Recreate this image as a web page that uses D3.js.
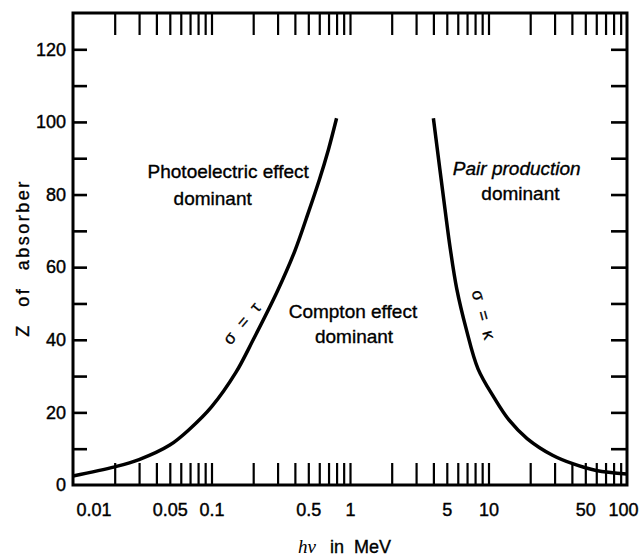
<!DOCTYPE html>
<html>
<head>
<meta charset="utf-8">
<script src="https://cdn.jsdelivr.net/npm/d3@7"></script>
<style>
  html, body { margin: 0; padding: 0; background: #fff; }
  svg { display: block; }
  text { font-family: "Liberation Sans", Arial, Helvetica, sans-serif; fill: #000; }
</style>
</head>
<body>
<svg id="chart" width="641" height="559"></svg>
<script>
// ---- data ----
// photoelectric / Compton equal-probability line (sigma = tau)
const photoEnergy = [0.01, 0.02, 0.03, 0.05, 0.07, 0.1, 0.15, 0.2, 0.3, 0.4, 0.5, 0.6, 0.7, 0.8];
const photoZ      = [2.5, 5, 7, 11, 15.5, 21.5, 31, 40, 53.5, 64.5, 75, 84, 92.5, 101];
// Compton / pair production equal-probability line (sigma = kappa)
const pairEnergy  = [4, 4.85, 5.3, 5.9, 6.9, 8.4, 11, 14, 19, 29, 41, 60, 100];
const pairZ       = [101, 76, 65, 54, 43, 32, 24, 18, 12.8, 8.2, 5.8, 4, 3];

// tick values and labels
const xTickValues = [0.02, 0.03, 0.04, 0.05, 0.06, 0.07, 0.08, 0.09, 0.1,
                     0.2, 0.3, 0.4, 0.5, 0.6, 0.7, 0.8, 0.9, 1,
                     2, 3, 4, 5, 6, 7, 8, 9, 10,
                     20, 30, 40, 50, 60, 70, 80, 90];
const xLabelValues = [0.01, 0.05, 0.1, 0.5, 1, 5, 10, 50, 100];
const xLabelText   = ["0.01", "0.05", "0.1", "0.5", "1", "5", "10", "50", "100"];
const yTickValues  = [10, 20, 30, 40, 50, 60, 70, 80, 90, 100, 110, 120];
const yLabelValues = [0, 20, 40, 60, 80, 100, 120];
const yLabelText   = ["0", "20", "40", "60", "80", "100", "120"];

const regionLabels = [
  { text: "Photoelectric effect", e: 0.132, z: 84.5, italic: false },
  { text: "dominant", e: 0.102, z: 77, italic: false },
  { text: "Compton effect", e: 1.05, z: 46, italic: false },
  { text: "dominant", e: 1.07, z: 39, italic: false },
  { text: "Pair production", e: 16.0, z: 85.5, italic: true },
  { text: "dominant", e: 17.0, z: 78.5, italic: false }
];

// ---- layout ----
const L = 73, R = 627, T = 13, B = 485;
const svg = d3.select("#chart");
const x = d3.scaleLog().domain([0.01, 100]).range([L, R]);
const y = d3.scaleLinear().domain([0, 130]).range([B, T]);

// curves
const line = d3.line().x(d => x(d[0])).y(d => y(d[1])).curve(d3.curveCatmullRom.alpha(0.5));
svg.append("path")
  .attr("d", line(photoEnergy.map((e, i) => [e, photoZ[i]])))
  .attr("fill", "none").attr("stroke", "#000").attr("stroke-width", 3.5);
svg.append("path")
  .attr("d", line(pairEnergy.map((e, i) => [e, pairZ[i]])))
  .attr("fill", "none").attr("stroke", "#000").attr("stroke-width", 3.5);

// axes: tick marks pointing inward
function styleTicks(g, w) {
  g.select(".domain").remove();
  g.selectAll(".tick line").attr("stroke", "#000").attr("stroke-width", w);
}
svg.append("g").attr("transform", `translate(0,${B})`)
  .call(d3.axisBottom(x).tickValues(xTickValues).tickSize(-22).tickFormat(""))
  .call(g => styleTicks(g, 2.2));
svg.append("g").attr("transform", `translate(0,${T})`)
  .call(d3.axisTop(x).tickValues(xTickValues).tickSize(-22).tickFormat(""))
  .call(g => styleTicks(g, 2.2));
svg.append("g").attr("transform", `translate(${L},0)`)
  .call(d3.axisLeft(y).tickValues(yTickValues).tickSize(-14).tickFormat(""))
  .call(g => styleTicks(g, 2.6));
svg.append("g").attr("transform", `translate(${R},0)`)
  .call(d3.axisRight(y).tickValues(yTickValues).tickSize(-16).tickFormat(""))
  .call(g => styleTicks(g, 2.6));

// tick labels
const xl = svg.append("g").attr("transform", `translate(0,${B})`)
  .call(d3.axisBottom(x).tickValues(xLabelValues).tickSize(0).tickPadding(18)
    .tickFormat((d, i) => xLabelText[i]));
xl.select(".domain").remove();
xl.selectAll("text").attr("font-size", 18).attr("font-family", null)
  .attr("stroke", "#000").attr("stroke-width", 0.4);
xl.selectAll(".tick").filter(d => d === 0.01).select("text")
  .attr("text-anchor", "start").attr("dx", 3);
xl.selectAll(".tick").filter(d => d === 100).select("text")
  .attr("text-anchor", "end").attr("dx", 11);

const yl = svg.append("g").attr("transform", `translate(${L},0)`)
  .call(d3.axisLeft(y).tickValues(yLabelValues).tickSize(0).tickPadding(7)
    .tickFormat((d, i) => yLabelText[i]));
yl.select(".domain").remove();
yl.selectAll("text").attr("font-size", 18).attr("font-family", null)
  .attr("stroke", "#000").attr("stroke-width", 0.4);

// frame
svg.append("rect").attr("x", L).attr("y", T).attr("width", R - L).attr("height", B - T)
  .attr("fill", "none").attr("stroke", "#000").attr("stroke-width", 3);

// region labels
regionLabels.forEach(d => {
  svg.append("text")
    .attr("x", x(d.e)).attr("y", y(d.z))
    .attr("text-anchor", "middle")
    .attr("font-size", 19)
    .attr("font-style", d.italic ? "italic" : "normal")
    .attr("stroke", "#000").attr("stroke-width", 0.35)
    .text(d.text);
});

// line labels
svg.append("text")
  .attr("transform", `translate(${x(0.178)},${y(43.5)}) rotate(-50)`)
  .attr("text-anchor", "middle").attr("font-size", 17)
  .attr("word-spacing", 6)
  .attr("stroke", "#000").attr("stroke-width", 0.3)
  .text("σ = τ");
svg.append("text")
  .attr("transform", `translate(${x(8.4)},${y(46.5)}) rotate(75)`)
  .attr("text-anchor", "middle").attr("font-size", 17)
  .attr("word-spacing", 6)
  .attr("stroke", "#000").attr("stroke-width", 0.3)
  .text("σ = κ");

// axis titles
const xt = svg.append("text").attr("x", 298).attr("y", 553).attr("font-size", 18);
xt.append("tspan").attr("font-family", "'Liberation Serif', 'Times New Roman', serif")
  .attr("font-style", "italic").attr("font-size", 19).text("hν");
xt.append("tspan").attr("x", 330).attr("word-spacing", 5)
  .attr("stroke", "#000").attr("stroke-width", 0.35).text("in MeV");

svg.append("text")
  .attr("transform", `translate(28.5,${(T + B) / 2 + 9}) rotate(-90)`)
  .attr("text-anchor", "middle").attr("font-size", 18)
  .attr("letter-spacing", 2.5).attr("word-spacing", 9)
  .attr("stroke", "#000").attr("stroke-width", 0.35)
  .text("Z of absorber");
</script>
</body>
</html>
